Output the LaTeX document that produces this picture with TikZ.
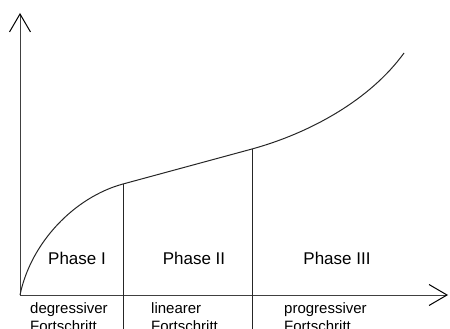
\documentclass[tikz,border=0pt]{standalone}
\usepackage{fontspec}
\setmainfont{Liberation Sans}
\usepackage{tikz}
\usetikzlibrary{arrows.meta,positioning}

\begin{document}
\begin{tikzpicture}[
        x=1pt, y=-1pt,
        axis/.style={draw=black!75, line width=1pt, -{Straight Barb[length=18pt,width=21pt,line width=1pt,black]}},
        curve/.style={draw=black!85, line width=1pt},
        divider/.style={draw=black!85, line width=0.8pt},
        phase/.style={inner sep=0pt, font=\fontsize{17}{20}\selectfont},
        kind/.style={inner sep=0pt, anchor=north west, align=left, font=\fontsize{15}{18}\selectfont}
    ]
    \useasboundingbox (0,0) rectangle (450,329);

    % Points
    \coordinate (O) at (20,295);
    \coordinate (ytip) at (20,13);
    \coordinate (xtip) at (448,295);
    \coordinate (p1) at (123,184);
    \coordinate (p2) at (252,149);
    \coordinate (p3) at (404,53);
    \coordinate (p1b) at (123,335);
    \coordinate (p2b) at (252,335);

    % Nodes
    \node[phase] (ph1) at (77,258) {Phase I};
    \node[phase] (ph2) at (194,258) {Phase II};
    \node[phase] (ph3) at (337,258) {Phase III};
    \node[kind] (k1) at (30,302) {degressiver\\Fortschritt};
    \node[kind] (k2) at (151,302) {linearer\\Fortschritt};
    \node[kind] (k3) at (284,302) {progressiver\\Fortschritt};

    % Edges
    \draw[axis] (O) -- (ytip);
    \draw[axis] (O) -- (xtip);
    \draw[divider] (p1) -- (p1b);
    \draw[divider] (p2) -- (p2b);
    \draw[curve] (O) .. controls (31,242) and (75,197) .. (p1)
        -- (p2) .. controls (310,133) and (370,100) .. (p3);

\end{tikzpicture}
\end{document}
